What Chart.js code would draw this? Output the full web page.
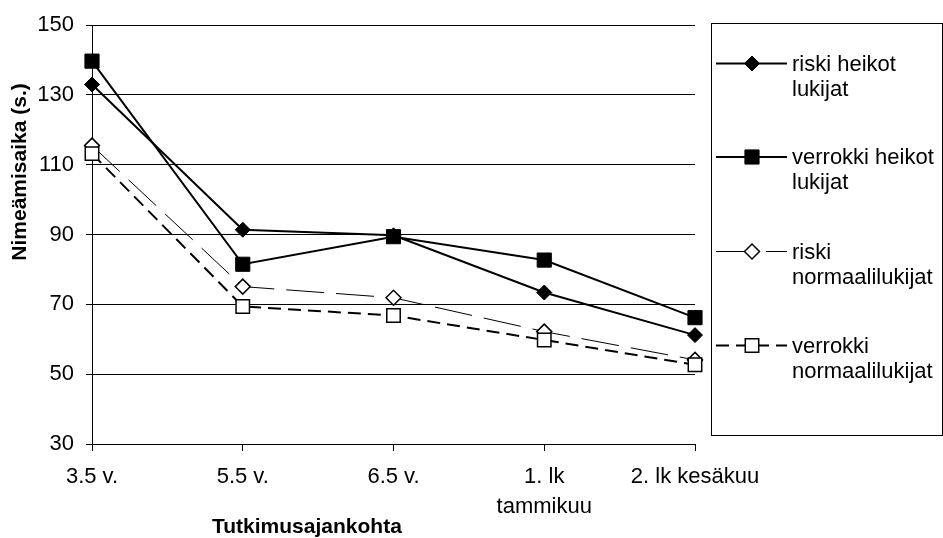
<!DOCTYPE html>
<html>
<head>
<meta charset="utf-8">
<script src="https://cdn.jsdelivr.net/npm/chart.js@4/dist/chart.umd.min.js"></script>
<style>
html,body{margin:0;padding:0;background:#fff}
canvas{display:block}
</style>
</head>
<body>
<canvas id="c" width="943" height="538"></canvas>
<script>
// ---- data ----
const categories = ['3.5 v.', '5.5 v.', '6.5 v.', ['1. lk', 'tammikuu'], '2. lk kesäkuu'];
const riskiHeikot = [133, 91.4, 89.8, 73.4, 61.2];
const verrokkiHeikot = [139.7, 81.5, 89.4, 82.7, 66.2];
const riskiNormaali = [115.5, 75.1, 71.9, 62.2, 54.1];
const verrokkiNormaali = [113.2, 69.4, 66.8, 59.8, 52.7];
const seriesLabels = [
  ['riski heikot', 'lukijat'],
  ['verrokki heikot', 'lukijat'],
  ['riski', 'normaalilukijat'],
  ['verrokki', 'normaalilukijat']
];
const yMin = 30, yMax = 150, yStep = 20;
const xTitle = 'Tutkimusajankohta';
const yTitle = 'Nimeämisaika (s.)';

const FONT = '"Liberation Sans", Arial, sans-serif';
Chart.defaults.font.family = FONT;
Chart.defaults.font.size = 22;
Chart.defaults.color = '#000';

function drawMarker(ctx, style, x, y, r, fill, stroke, bw) {
  ctx.save();
  ctx.setLineDash([]);
  ctx.beginPath();
  if (style === 'rect') {
    const s = Math.SQRT1_2 * r;
    ctx.rect(x - s, y - s, 2 * s, 2 * s);
  } else {
    ctx.moveTo(x - r, y); ctx.lineTo(x, y - r); ctx.lineTo(x + r, y); ctx.lineTo(x, y + r); ctx.closePath();
  }
  ctx.fillStyle = fill; ctx.fill();
  ctx.lineWidth = bw; ctx.strokeStyle = stroke; ctx.stroke();
  ctx.restore();
}

const customDraw = {
  id: 'customDraw',
  afterDraw(chart) {
    const ctx = chart.ctx;
    ctx.save();
    ctx.fillStyle = '#000';
    ctx.font = 'bold 21px ' + FONT;
    ctx.textBaseline = 'middle';
    ctx.textAlign = 'left';
    ctx.fillText(xTitle, 212, 527);
    ctx.save();
    ctx.translate(20, 172);
    ctx.rotate(-Math.PI / 2);
    ctx.textAlign = 'center';
    ctx.fillText(yTitle, 0, 0);
    ctx.restore();

    // legend box
    ctx.strokeStyle = '#000';
    ctx.lineWidth = 1;
    ctx.strokeRect(711.5, 23.5, 231, 412);
    const rows = [63.5, 157, 251.5, 345.5];
    ctx.font = '22px ' + FONT;
    chart.data.datasets.forEach((ds, i) => {
      const y = rows[i];
      ctx.save();
      ctx.beginPath();
      ctx.setLineDash(ds.borderDash || []);
      ctx.lineWidth = ds.borderWidth;
      ctx.strokeStyle = ds.borderColor;
      ctx.moveTo(716, y); ctx.lineTo(787, y);
      ctx.stroke();
      ctx.restore();
      drawMarker(ctx, ds.pointStyle, 752, y, ds.pointRadius, ds.pointBackgroundColor, ds.pointBorderColor, ds.pointBorderWidth);
      ctx.fillStyle = '#000';
      ctx.textAlign = 'left';
      ctx.textBaseline = 'middle';
      seriesLabels[i].forEach((t, k) => ctx.fillText(t, 792, y + 1 + k * 25));
    });
    ctx.restore();
  }
};

const mk = (label, data, style, radius, fill, bw, dash, pbw, order) => ({
  label, data, order,
  borderColor: '#000', borderWidth: bw, borderDash: dash,
  pointStyle: style, pointRadius: radius, pointHoverRadius: radius,
  pointBackgroundColor: fill, pointBorderColor: '#000', pointBorderWidth: pbw,
  tension: 0, fill: false
});

new Chart(document.getElementById('c'), {
  type: 'line',
  data: {
    labels: categories,
    datasets: [
      mk(seriesLabels[0].join(' '), riskiHeikot, 'rectRot', 7.5, '#000', 2, [], 1, 4),
      mk(seriesLabels[1].join(' '), verrokkiHeikot, 'rect', 10, '#000', 2, [], 1, 3),
      mk(seriesLabels[2].join(' '), riskiNormaali, 'rectRot', 7.5, '#fff', 1, [38, 12], 1.5, 2),
      mk(seriesLabels[3].join(' '), verrokkiNormaali, 'rect', 9.5, '#fff', 2, [13, 7], 1.5, 1)
    ]
  },
  options: {
    responsive: false,
    animation: false,
    events: [],
    layout: { padding: { left: 0, right: 248, top: 21, bottom: 0 } },
    plugins: { legend: { display: false }, tooltip: { enabled: false }, title: { display: false } },
    scales: {
      x: {
        type: 'category',
        offset: false,
        grid: { drawOnChartArea: false, drawTicks: true, tickLength: 7, color: '#000', lineWidth: 1 },
        border: { display: true, color: '#000', width: 1 },
        ticks: { padding: 11, maxRotation: 0, autoSkip: false, font: { size: 22, lineHeight: 1.35 }, color: '#000' },
        afterFit(scale) { scale.height = 94; }
      },
      y: {
        min: yMin, max: yMax,
        grid: { color: '#000', lineWidth: 1, tickLength: 6, drawTicks: true },
        border: { display: true, color: '#000', width: 1 },
        ticks: { stepSize: yStep, padding: 12, font: { size: 22 }, color: '#000' },
        afterFit(scale) { scale.width = 92; }
      }
    }
  },
  plugins: [customDraw]
});
</script>
</body>
</html>
